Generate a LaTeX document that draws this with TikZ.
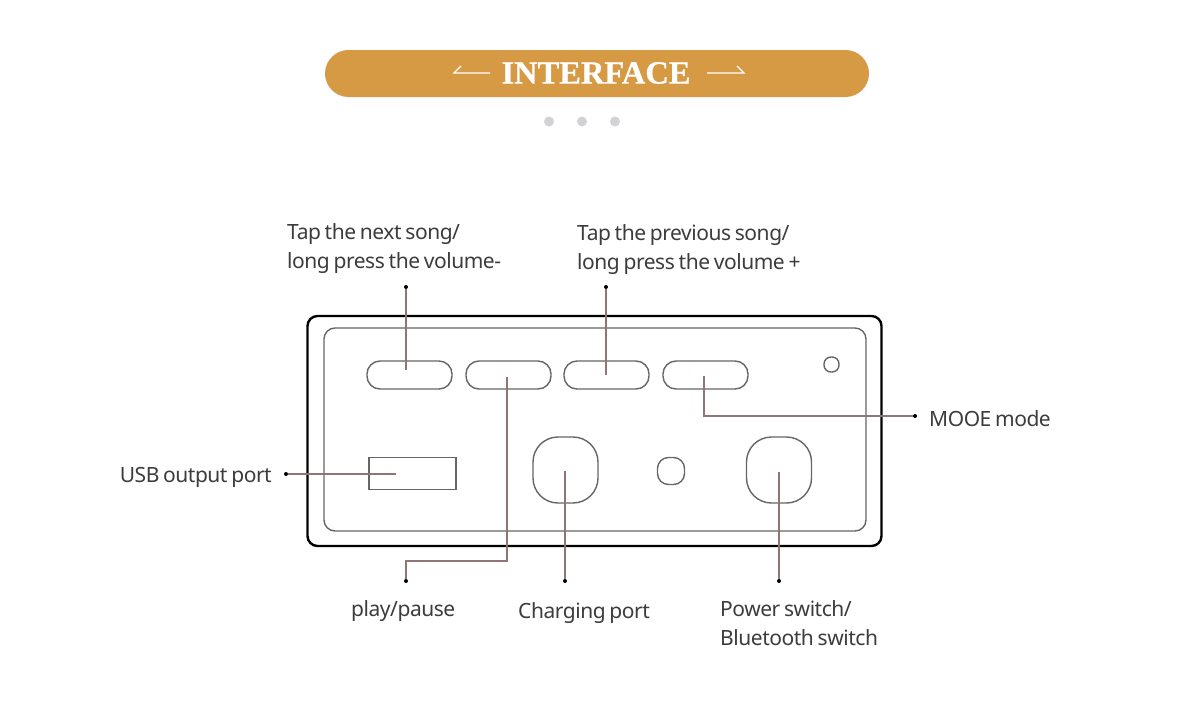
\documentclass[tikz,border=0pt]{standalone}
\usepackage{fontspec}
\setmainfont[LetterSpace=-2.2,WordSpace=0.75]{Noto Sans}
\newfontfamily\titlefont[FakeBold=0.6]{Liberation Serif}
\definecolor{pillgold}{HTML}{D69A45}
\definecolor{dotgrey}{HTML}{D2D2D6}
\definecolor{leadbrown}{HTML}{8F7575}
\definecolor{labelgrey}{HTML}{3C3C3C}
\definecolor{partgrey}{HTML}{666666}
\tikzset{
	lbl/.style = {anchor=west, align=left, inner sep=0pt, text=labelgrey, font=\fontsize{21}{29}\selectfont},
	lead/.style = {draw=leadbrown, line width=1.1pt},
	enddot/.style = {circle, fill=black, inner sep=0pt, minimum size=4pt},
	greydot/.style = {circle, fill=dotgrey, inner sep=0pt, minimum size=10pt},
	part/.style = {draw=partgrey, line width=1.4pt, inner sep=0pt},
	btn/.style = {part, rounded corners=13pt, minimum width=85pt, minimum height=28pt},
	bigbtn/.style = {part, rounded corners=25pt, minimum width=65pt, minimum height=66pt}
}
\begin{document}
\begin{tikzpicture}[x=1pt, y=-1pt]
	\useasboundingbox (0,0) rectangle (1197,723);
	
	% header
	\node[fill=pillgold, rounded corners=23.5pt, minimum width=544pt, minimum height=47pt, inner sep=0pt] (pill) at (597,73.5) {};
	\node[text=white, inner sep=0pt, font=\titlefont\bfseries\fontsize{32.5}{32}\selectfont] (title) at (596,73) {INTERFACE};
	\draw[white, line width=1.2pt] (490,73) -- (454,73) -- (461,66); % left arrow
	\draw[white, line width=1.2pt] (707,73) -- (744,73) -- (737,66); % right arrow
	\node[greydot] (g1) at (549,121.5) {};
	\node[greydot] (g2) at (582,121.5) {};
	\node[greydot] (g3) at (615,121.5) {};
	
	% panel
	\node[draw=black, line width=2.4pt, rounded corners=10pt, minimum width=574pt, minimum height=230pt, inner sep=0pt] (case) at (594.5,431) {};
	\node[part, rounded corners=11pt, minimum width=542pt, minimum height=203pt] (face) at (595,429.5) {};
	
	\node[btn] (nextbtn) at (409.5,375) {};
	\node[btn] (playbtn) at (508.5,375) {};
	\node[btn] (prevbtn) at (606.5,375) {};
	\node[btn] (modebtn) at (705.5,375) {};
	\node[part, rounded corners=7pt, minimum size=15pt] (led) at (831.5,364.5) {};
	\node[part, minimum width=87pt, minimum height=32pt] (usb) at (412.5,473.5) {};
	\node[bigbtn] (charge) at (565.5,470) {};
	\node[part, rounded corners=11pt, minimum size=27pt] (mic) at (671,471) {};
	\node[bigbtn] (power) at (779,470) {};
	
	% lead ends inside the parts
	\coordinate (nextend) at (406,370);
	\coordinate (prevend) at (606,375);
	\coordinate (playend) at (507,377);
	\coordinate (modeend) at (704,376);
	\coordinate (usbend) at (396,474);
	\coordinate (chargeend) at (565,471);
	\coordinate (powerend) at (779,472);
	
	\node[enddot] (nextdot) at (406,287) {};
	\node[enddot] (prevdot) at (606,287) {};
	\node[enddot] (playdot) at (406,581) {};
	\node[enddot] (modedot) at (915,416) {};
	\node[enddot] (usbdot) at (286,474) {};
	\node[enddot] (chargedot) at (565,581) {};
	\node[enddot] (powerdot) at (779,581) {};
	
	\draw[lead] (nextdot) -- (nextend);
	\draw[lead] (prevdot) -- (prevend);
	\draw[lead] (playend) |- (507,561) -| (playdot);
	\draw[lead] (modeend) |- (modedot);
	\draw[lead] (usbdot) -- (usbend);
	\draw[lead] (chargedot) -- (chargeend);
	\draw[lead] (powerdot) -- (powerend);
	
	% labels
	\node[lbl] (nextlbl) at (287,248.5) {Tap the next song/\\long press the volume-};
	\node[lbl] (prevlbl) at (577,249.5) {Tap the previous song/\\long press the volume +};
	\node[lbl] (modelbl) at (929,418.5) {MOOE mode};
	\node[lbl, anchor=east] (usblbl) at (272,477) {USB output port};
	\node[lbl] (playlbl) at (351,611) {play/pause};
	\node[lbl] (chargelbl) at (518,613) {Charging port};
	\node[lbl] (powerlbl) at (720,623) {Power switch/\\Bluetooth switch};
\end{tikzpicture}
\end{document}
